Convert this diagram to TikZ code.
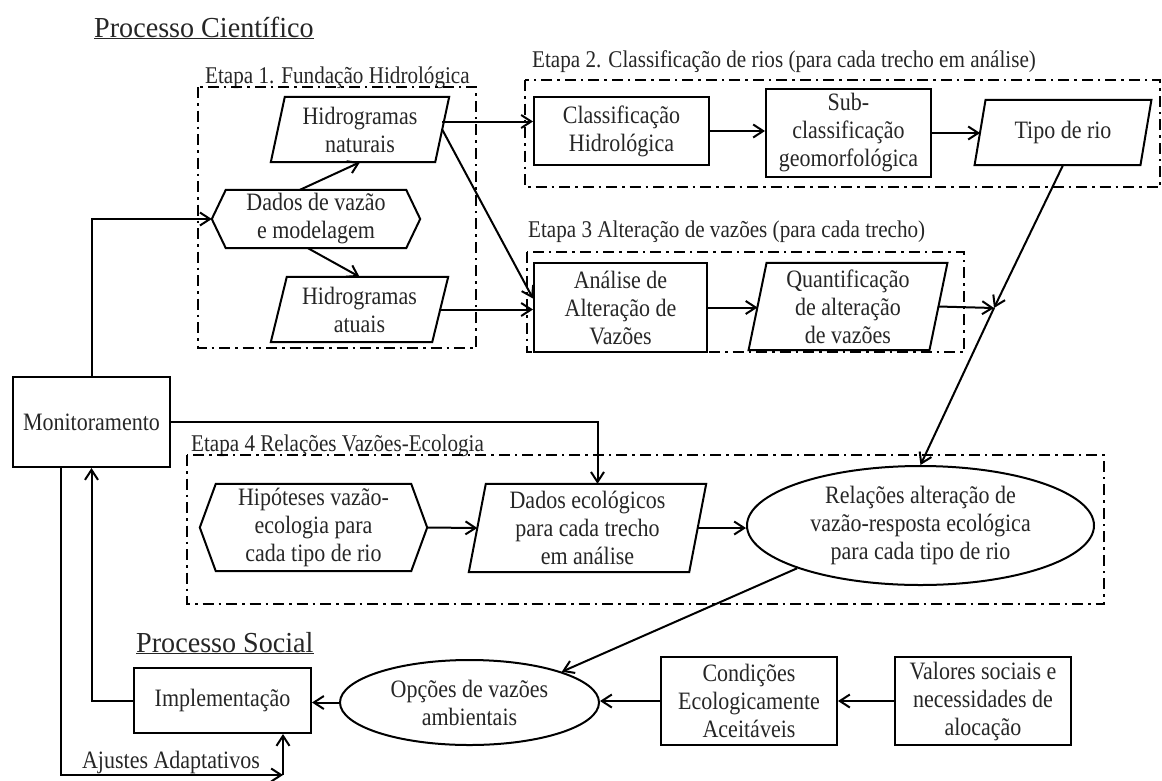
\documentclass[tikz,border=0pt]{standalone}
\usepackage{fontspec}
\setmainfont{Liberation Serif}[FakeStretch=0.88]
\newfontfamily\titlefont{Liberation Serif}[FakeStretch=0.97]
\usetikzlibrary{shapes.geometric,arrows.meta,calc}
\newcommand\paraline[2]{\draw[boxline] ($(#1.north west)+(#2/2,0)$) -- ($(#1.north east)+(#2/2,0)$) -- ($(#1.south east)-(#2/2,0)$) -- ($(#1.south west)-(#2/2,0)$) -- cycle;}
\newcommand\hexline[2]{\draw[boxline] (#1.north west) -- (#1.north east) -- ($(#1.east)+(#2,0)$) -- (#1.south east) -- (#1.south west) -- ($(#1.west)-(#2,0)$) -- cycle;}
\tikzset{
 boxline/.style={line width=2pt, line join=miter},
 txt/.style={font=\fontsize{25}{28}\selectfont, align=center, inner sep=0pt, text=black!85},
 rbox/.style={txt, draw=black, line width=2pt},
 ell/.style={txt, draw=black, ellipse, line width=2pt},
 arr/.style={line width=2pt, -{Straight Barb[length=10pt,width=13pt]}},
 etapa/.style={draw, line width=2pt, dash pattern=on 11pt off 5pt on 2.5pt off 5pt},
 etitle/.style={font=\fontsize{24}{27.5}\selectfont, anchor=base west, inner sep=0pt, text=black!85},
 bigtitle/.style={font=\titlefont\fontsize{29}{32}\selectfont, anchor=base west, inner sep=0pt, text=black!85},
}
\begin{document}
\begin{tikzpicture}[x=1pt,y=-1pt]
\useasboundingbox (0,0) rectangle (1162,780);
% titles
\node[bigtitle] (t1) at (94,37) {\underline{Processo Científico}};
\node[bigtitle] (t2) at (136,652) {\underline{Processo Social}};
\node[etitle] (e1t) at (205,83) {Etapa 1. Fundação Hidrológica};
\node[etitle] (e2t) at (532,67) {Etapa 2. Classificação de rios (para cada trecho em análise)};
\node[etitle] (e3t) at (528,237) {Etapa 3 Alteração de vazões (para cada trecho)};
\node[etitle] (e4t) at (191,451) {Etapa 4 Relações Vazões-Ecologia};
% stage frames
\draw[etapa] (198,87) rectangle (476,348);
\draw[etapa] (525,80) rectangle (1160,187);
\draw[etapa] (527,252) rectangle (964,352);
\draw[etapa] (187,455) rectangle (1104,604);
% Etapa 1
\node[txt, minimum width=164, minimum height=65] (hn) at (360,129.5) {Hidrogramas\\naturais};
\paraline{hn}{14}
\node[txt, minimum width=161, minimum height=65] (ha) at (359.5,309.5) {Hidrogramas\\atuais};
\paraline{ha}{16}
\node[txt, minimum width=180, minimum height=58] (dv) at (316,219) {Dados de vazão\\e modelagem};
\hexline{dv}{14}
% Etapa 2
\node[rbox, minimum width=175, minimum height=68] (cl) at (621.5,131) {Classificação\\Hidrológica};
\node[rbox, minimum width=165, minimum height=88] (sc) at (848.5,133) {Sub-\\classificação\\geomorfológica};
\node[txt, minimum width=165.5, minimum height=65] (tr) at (1063,132.5) {Tipo de rio};
\paraline{tr}{11}
% Etapa 3
\node[rbox, minimum width=173, minimum height=89] (an) at (620.5,307.5) {Análise de\\Alteração de\\Vazões};
\node[txt, minimum width=180.5, minimum height=87] (qt) at (848,306.5) {Quantificação\\de alteração\\de vazões};
\paraline{qt}{18}
\coordinate (J) at (994,308);
% Monitoramento
\node[rbox, minimum width=157, minimum height=90] (mon) at (91.5,422) {Monitoramento};
% Etapa 4
\node[txt, minimum width=195, minimum height=87] (hp) at (313.5,527.5) {Hipóteses vazão-\\ecologia para\\cada tipo de rio};
\hexline{hp}{16}
\node[txt, minimum width=220, minimum height=88] (de) at (587.5,528) {Dados ecológicos\\para cada trecho\\em análise};
\paraline{de}{17}
\node[ell, minimum width=347, minimum height=119] (rl) at (920.5,525.5) {Relações alteração de\\vazão-resposta ecológica\\para cada tipo de rio};
% Processo Social
\node[rbox, minimum width=177, minimum height=65] (im) at (222.5,700.5) {Implementação};
\node[ell, minimum width=259, minimum height=85] (op) at (469.5,702.5) {Opções de vazões\\ambientais};
\node[rbox, minimum width=176, minimum height=88] (cd) at (749,701) {Condições\\Ecologicamente\\Aceitáveis};
\node[rbox, minimum width=176, minimum height=88] (vs) at (983,701) {Valores sociais e\\necessidades de\\alocação};
\coordinate (aj) at (283,775);
\node[txt] (ajt) at (171,762) {Ajustes Adaptativos};
% connectors
\draw[arr] ($(dv.north)+(-16,0)$) -- (hn.south);
\draw[arr] ($(dv.south)+(-8,0)$) -- (ha.north);
\draw[arr] ([yshift=8]hn.east) -- ([yshift=8]hn.east -| cl.west);
\draw[arr] (hn.east) -- ([yshift=9]an.west);
\draw[arr] (ha.east) -- (ha.east -| an.west);
\draw[arr] (cl.east) -- (cl.east -| sc.west);
\draw[arr] (sc.east) -- (sc.east -| tr.west);
\draw[arr] (tr.south) -- (J);
\draw[arr] (an.east) -- (an.east -| qt.west);
\draw[arr] (qt.east) -- (J);
\draw[arr] (J) -- (rl.north);
\draw[arr] (mon.north) |- ($(dv.west)-(14,0)$);
\draw[arr] (mon.east) -| ([xshift=10]de.north);
\draw[arr] ($(hp.east)+(16,0)$) -- (de.west);
\draw[arr] (de.east) -- (de.east -| rl.west);
\draw[arr] (rl.south west) -- (op.north east);
\draw[arr] (op.west) -- (op.west -| im.east);
\draw[arr] (cd.west) -- (cd.west -| op.east);
\draw[arr] (vs.west) -- (vs.west -| cd.east);
\draw[arr] (im.west) -| (mon.south);
\draw[arr] ([xshift=-30.5]mon.south) |- (aj);
\draw[arr] (aj) -- (aj |- im.south);
\end{tikzpicture}
\end{document}
